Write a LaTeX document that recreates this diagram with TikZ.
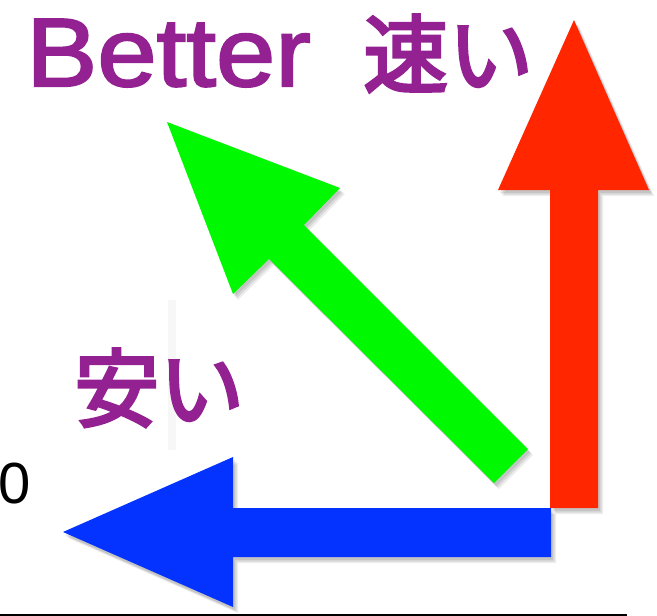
\documentclass[tikz,border=0pt]{standalone}
\usepackage{fontspec}
\setmainfont{Liberation Sans}
\newfontfamily\betterfont[FakeStretch=1.1,FakeBold=2.2]{Liberation Sans}
\newfontfamily\jpfont[FakeBold=3.5]{Noto Sans CJK JP}
\definecolor{kred}{RGB}{255,38,0}
\definecolor{kgreen}{RGB}{0,249,0}
\definecolor{kblue}{RGB}{4,51,255}
\definecolor{kpurple}{RGB}{148,33,146}
\tikzset{
  shad/.style={
    preaction={fill=black,opacity=0.09,transform canvas={shift={(2pt,-3pt)}}},
    preaction={fill=black,opacity=0.09,transform canvas={shift={(3.5pt,-4.5pt)}}},
    preaction={fill=black,opacity=0.07,transform canvas={shift={(5pt,-6pt)}}}},
  lbl/.style={inner sep=0pt, text=kpurple},
}
\begin{document}
\begin{tikzpicture}[x=1pt,y=-1pt]
\useasboundingbox (0,0) rectangle (657,616);
% faint vertical mark
\fill[black!3] (168,300) rectangle (176,450);
% green arrow
\fill[kgreen, shad] (167,122) -- (340,188) -- (304,225) -- (528,449) -- (494,483) -- (269,259) -- (233,294) -- cycle;
% red arrow
\fill[kred, shad] (574,20) -- (649,190) -- (598,190) -- (598,508) -- (550,508) -- (550,190) -- (498,190) -- cycle;
% blue arrow
\fill[kblue, shad] (63,532) -- (233,457) -- (233,508) -- (551,508) -- (551,557) -- (233,557) -- (233,607) -- cycle;
% texts
\node[lbl, anchor=base west, font=\betterfont\fontsize{97}{100}\selectfont] (better) at (26,86) {Better};
\node[lbl, anchor=base west, font=\jpfont\fontsize{85}{90}\selectfont] (fast) at (363,86) {速い};
\node[lbl, anchor=base west, font=\jpfont\fontsize{85}{90}\selectfont] (cheap) at (74,420) {安い};
\node[inner sep=0pt, font=\fontsize{58}{60}\selectfont] (zero) at (15,484) {0};
% bottom line
\coordinate (bl) at (0,615);
\coordinate (br) at (627,615);
\draw[line width=1.3pt] (bl) -- (br);
\end{tikzpicture}
\end{document}
